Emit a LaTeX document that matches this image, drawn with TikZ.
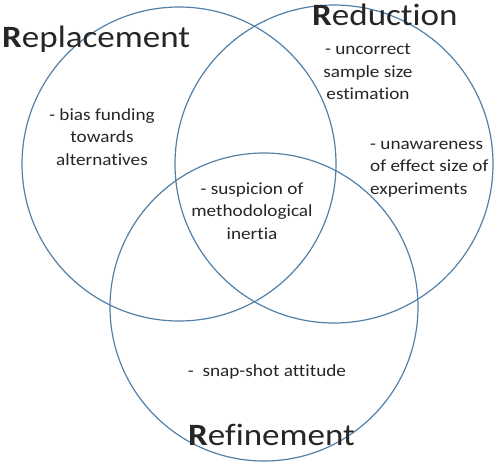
\documentclass[tikz,border=0pt]{standalone}
\usepackage{fontspec}
\setmainfont{Carlito}[FakeStretch=1.13,Ligatures={NoCommon}]
\begin{document}
\begin{tikzpicture}[x=1pt,y=-1pt,
  ring/.style={draw=ringblue,line width=1.2pt},
  title/.style={inner sep=0pt,font=\fontsize{31}{36}\selectfont,text=black!85},
  note/.style={inner sep=0pt,align=center,font=\fontsize{17}{22.5}\selectfont,text=black!85}]
\definecolor{ringblue}{RGB}{82,128,168}
\useasboundingbox (0,0) rectangle (498,464);
\fill[white] (0,0) rectangle (498,464);
\draw[ring] (179,164) circle[radius=157];
\draw[ring] (334,164) circle[radius=159];
\draw[ring] (264,307) circle[radius=154];
\node[title,anchor=base west] (rep) at (2,47) {\textbf{R}eplacement};
\node[title,anchor=base west] (red) at (312,25) {\textbf{R}eduction};
\node[title,anchor=base west] (ref) at (188,445) {\textbf{R}efinement};
\node[note] (bias) at (102,137) {- bias funding\\towards\\alternatives};
\node[note] (unc) at (368,72) {- uncorrect\\sample size\\estimation};
\node[note,align=left,anchor=west] (una) at (370,169) {- unawareness\\of effect size of\\experiments};
\node[note] (sus) at (252,211) {- suspicion of\\methodological\\inertia};
\node[note] (snap) at (267,372) {-~ snap-shot attitude};
\end{tikzpicture}
\end{document}
